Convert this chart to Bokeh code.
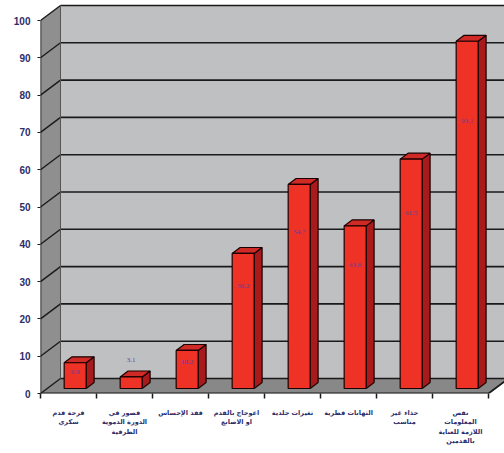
from bokeh.plotting import figure
from bokeh.models import FixedTicker, Range1d, ColumnDataSource
from bokeh.embed import file_html
from bokeh.resources import INLINE

# ---- data ----
categories = [
    "قرحة قدم\nسكري",
    "قصور في\nالدورة الدموية\nالطرفية",
    "فقد الإحساس",
    "اعوجاج بالقدم\nاو الاصابع",
    "تغيرات جلدية",
    "التهابات فطرية",
    "حذاء غير\nمناسب",
    "نقص\nالمعلومات\nاللازمة للعناية\nبالقدمين",
]
values = [6.9, 3.1, 10.2, 36.2, 54.7, 43.6, 61.5, 93.1]
value_labels = ["6.9", "3.1", "10.2", "36.2", "54.7", "43.6", "61.5", "93.1"]
y_ticks = [0, 10, 20, 30, 40, 50, 60, 70, 80, 90, 100]

# ---- geometry (pixel scale of the pseudo-3D projection) ----
PX_X = 56.0          # pixels per category
PX_Y = 3.73          # pixels per value unit
DX = 20 / PX_X       # depth offset, x
DY = 15 / PX_Y       # depth offset, y
n = len(categories)
ymax = y_ticks[-1]
BW = 22 / PX_X       # bar width
A = 1 / 3            # bar front depth fraction
B = 0.73             # bar back depth fraction

p = figure(width=504, height=453, output_backend="svg", toolbar_location=None,
           x_range=Range1d(0, 464 / PX_X), y_range=Range1d(0, 391 / PX_Y),
           min_border_left=40, min_border_right=0, min_border_top=2, min_border_bottom=60)
p.xgrid.visible = False
p.ygrid.visible = False
p.outline_line_color = None
p.background_fill_color = "white"
p.border_fill_color = "white"

# walls and floor
p.patch([0, DX, DX, 0], [0, DY, ymax + DY, ymax], fill_color="#8f8f8f", line_color=None)
p.patch([DX, n + 2, n + 2, DX], [DY, DY, ymax + DY, ymax + DY], fill_color="#bfc0c2", line_color=None)
p.patch([0, n, n + DX, DX], [0, 0, DY, DY], fill_color="#888888", line_color=None)

# gridlines on back wall and left wall
for t in y_ticks:
    p.line([DX, n + 2], [t + DY, t + DY], line_color="#1a1a1a", line_width=1.6)
    p.line([0, DX], [t, t + DY], line_color="#1a1a1a", line_width=1.4)
p.line([DX, DX], [DY, ymax + DY], line_color="#555555", line_width=1)

# front edges / axis lines
p.line([0, 0], [0, ymax], line_color="#1a1a1a", line_width=1.6)
p.line([0, n, n + DX], [0, 0, DY], line_color="#1a1a1a", line_width=1.8)

# bars
ax, ay = A * DX, A * DY
bx, by = B * DX, B * DY
front_xs, front_ys, side_xs, side_ys, top_xs, top_ys = [], [], [], [], [], []
lx, ly = [], []
for i, v in enumerate(values):
    c = i + 0.5
    l, r = c - BW / 2, c + BW / 2
    front_xs.append([l + ax, r + ax, r + ax, l + ax])
    front_ys.append([ay, ay, v + ay, v + ay])
    side_xs.append([r + ax, r + bx, r + bx, r + ax])
    side_ys.append([ay, by, v + by, v + ay])
    top_xs.append([l + ax, l + bx, r + bx, r + ax])
    top_ys.append([v + ay, v + by, v + by, v + ay])
    lx.append(c + ax)
    ly.append(0.78 * v + 0.5 if v >= 5 else v + 6)

p.patches(side_xs, side_ys, fill_color="#a81a1c", line_color="#1a0000", line_width=1.2)
p.patches(top_xs, top_ys, fill_color="#cf2a26", line_color="#1a0000", line_width=1.2)
p.patches(front_xs, front_ys, fill_color="#ee3226", line_color="#1a0000", line_width=1.2)

src = ColumnDataSource(dict(x=lx, y=ly, t=value_labels))
p.text(x="x", y="y", text="t", source=src, text_align="center", text_baseline="middle",
       text_font_size="7px", text_color="#5a44a0", text_font="Liberation Sans")

# axes
p.yaxis.ticker = FixedTicker(ticks=y_ticks)
p.yaxis.axis_line_color = None
p.yaxis.major_tick_in = 0
p.yaxis.major_tick_out = 3
p.yaxis.major_tick_line_color = "#1a1a1a"
p.yaxis.minor_tick_line_color = None
p.yaxis.major_label_text_font = "Liberation Sans"
p.yaxis.major_label_text_font_style = "bold"
p.yaxis.major_label_text_font_size = "10px"
p.yaxis.major_label_text_color = "#2d2d6a"
p.yaxis.major_label_standoff = 7

centers = [i + 0.5 for i in range(n)]
bounds = [i for i in range(n + 1)]
p.xaxis.ticker = FixedTicker(ticks=centers, minor_ticks=bounds)
p.xaxis.major_label_overrides = {c: lab for c, lab in zip(centers, categories)}
p.xaxis.axis_line_color = None
p.xaxis.major_tick_in = 0
p.xaxis.major_tick_out = 0
p.xaxis.minor_tick_in = 0
p.xaxis.minor_tick_out = 5
p.xaxis.minor_tick_line_color = "#1a1a1a"
p.xaxis.minor_tick_line_width = 1.5
p.xaxis.major_label_text_font = "DejaVu Sans"
p.xaxis.major_label_text_font_style = "bold"
p.xaxis.major_label_text_font_size = "6.5px"
p.xaxis.major_label_text_color = "#2d2d6a"
p.xaxis.major_label_standoff = 10

open("out.html", "w").write(file_html(p, INLINE))
